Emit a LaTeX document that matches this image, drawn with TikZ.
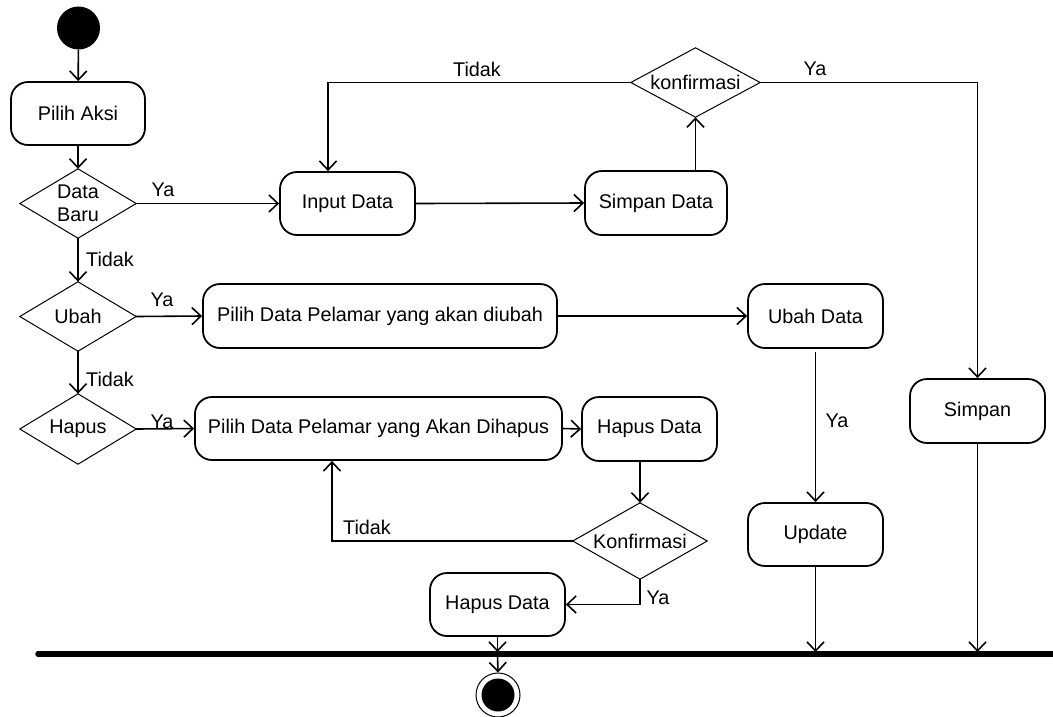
\documentclass[tikz,border=0pt]{standalone}
\usepackage{fontspec}
\setmainfont{Liberation Sans}
\usetikzlibrary{arrows.meta,calc}
\newcommand\lblfont{\fontsize{19.8}{23}\selectfont}
\tikzset{
  act/.style={draw, line width=1.8pt, rounded corners=17pt, minimum height=63pt, inner sep=0pt, align=center, font=\lblfont},
  dec/.style={inner sep=0pt, align=center, font=\lblfont},
  decline/.style={line width=1pt},
  flow/.style={line width=1.6pt, -{Straight Barb[length=9pt,width=17pt]}},
  lab/.style={inner sep=0pt, font=\lblfont},
}
\begin{document}
\begin{tikzpicture}[x=1pt,y=-1pt]
\useasboundingbox (0,0) rectangle (1053,716);
% start
\node[circle, fill=black, minimum size=43pt, inner sep=0pt] (start) at (78.5,28) {};
% activities
\node[act, minimum width=134pt] (aksi) at (78,113.5) {Pilih Aksi};
\node[act, minimum width=135pt] (input) at (347.5,203.5) {Input Data};
\node[act, minimum width=142pt, minimum height=64pt] (simpandata) at (656,203) {Simpan Data};
\node[act, minimum width=354pt, minimum height=64pt] (pilihubah) at (380,316) {Pilih Data Pelamar yang akan diubah};
\node[act, minimum width=135pt, minimum height=64pt] (ubahdata) at (815.5,316) {Ubah Data};
\node[act, minimum width=367pt] (pilihhapus) at (378.5,428.5) {Pilih Data Pelamar yang Akan Dihapus};
\node[act, minimum width=135pt, minimum height=64pt] (hapusdata1) at (649.5,429) {Hapus Data};
\node[act, minimum width=135pt] (hapusdata2) at (497.5,604.5) {Hapus Data};
\node[act, minimum width=135pt] (update) at (815.5,534.5) {Update};
\node[act, minimum width=135pt, minimum height=64pt] (simpan) at (977.5,411) {Simpan};
% decisions
\node[dec, minimum width=116pt, minimum height=69pt] (baru) at (78,203.5) {Data\\Baru};
\node[dec, minimum width=116pt, minimum height=69pt] (ubah) at (78,316.5) {Ubah};
\node[dec, minimum width=116pt, minimum height=70pt] (hapus) at (78,429) {Hapus};
\node[dec, minimum width=129pt, minimum height=69pt] (konf) at (695.5,82.5) {konfirmasi};
\node[dec, minimum width=134pt, minimum height=76pt] (konf2) at (640,541) {Konfirmasi};
\foreach \d in {baru,ubah,hapus,konf,konf2}{
  \draw[decline] (\d.north) -- (\d.east) -- (\d.south) -- (\d.west) -- cycle;
}
% bar and end
\coordinate (barL) at (38,654);
\coordinate (barR) at (1053,654);
\draw[line width=5.5pt, line cap=round] (barL) -- (barR);
\node[circle, draw, line width=1pt, minimum size=44pt, inner sep=0pt] (end) at (498,695) {};
\node[circle, fill=black, minimum size=33pt, inner sep=0pt] (endin) at (498,695) {};
% connectors
\draw[flow] (start) -- (aksi);
\draw[flow] (aksi) -- (baru.north);
\draw[flow] (baru.east) -- (input.west);
\draw[flow] (baru.south) -- (ubah.north);
\draw[flow] (ubah.east) -- (pilihubah.west);
\draw[flow] (ubah.south) -- (hapus.north);
\draw[flow] (hapus.east) -- (pilihhapus.west);
\draw[flow] (input.east) -- (simpandata.west);
\draw[flow] (simpandata.north -| konf.south) -- (konf.south);
\draw[flow] (konf.west) -| ([xshift=-19.5pt]input.north);
\draw[flow] (konf.east) -| (simpan.north);
\draw[flow] (pilihubah.east) -- (ubahdata.west);
\draw[flow, shorten <=3pt] (ubahdata.south) -- (update.north);
\draw[flow] (pilihhapus.east) -- (hapusdata1.west);
\draw[flow] (hapusdata1.south -| konf2.north) -- (konf2.north);
\draw[flow] (konf2.west) -| ([xshift=-46.5pt]pilihhapus.south);
\draw[flow] (konf2.south) |- (hapusdata2.east);
\coordinate (barH) at (hapusdata2.south |- barL);
\draw[flow, shorten >=2pt] (hapusdata2.south) -- (barH);
\draw[flow] (barH) -- (end.north);
\draw[flow, shorten >=2pt] (update.south) -- (update.south |- barL);
\draw[flow, shorten >=2pt] (simpan.south) -- (simpan.south |- barL);
% labels
\node[lab] (l1) at (163,190) {Ya};
\node[lab] (l2) at (110,259) {Tidak};
\node[lab] (l3) at (162,300) {Ya};
\node[lab] (l4) at (110,379) {Tidak};
\node[lab] (l5) at (162,422) {Ya};
\node[lab] (l6) at (477,69) {Tidak};
\node[lab] (l7) at (815,69) {Ya};
\node[lab] (l8) at (837,421) {Ya};
\node[lab] (l9) at (367,527) {Tidak};
\node[lab] (l10) at (658,598) {Ya};
\end{tikzpicture}
\end{document}
